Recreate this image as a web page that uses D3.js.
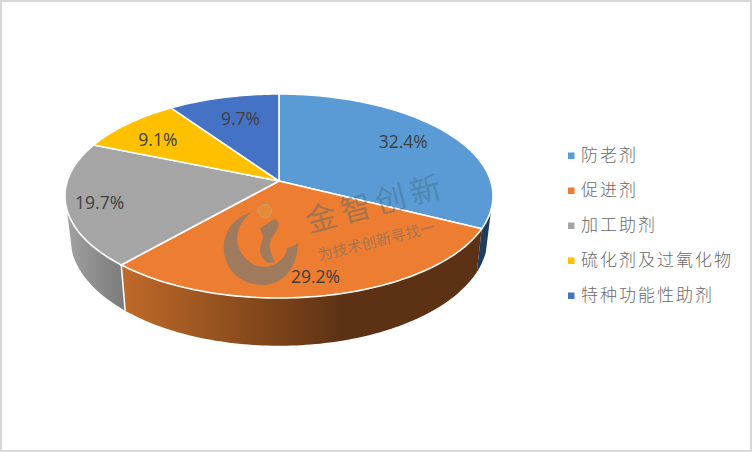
<!DOCTYPE html>
<html><head><meta charset="utf-8">
<script src="https://cdn.jsdelivr.net/npm/d3@7/dist/d3.min.js"></script>
<style>html,body{margin:0;padding:0;background:#fff}svg{display:block}</style></head>
<body><svg id="c" width="752" height="452"></svg>
<script>
const categories=["防老剂","促进剂","加工助剂","硫化剂及过氧化物","特种功能性助剂"];
const values=[32.4,29.2,19.7,9.1,9.7];
const colors=["#5b9bd5","#ed7d31","#a5a5a5","#ffc000","#4472c4"];

// tilted-disc projection fitted to the picture
const topFace={cx:279,cy:181,a:211.7,b:99.8,p:0.147};
const baseFace={cx:279,cy:221.5,a:206.5,b:106,p:0.147};
const labelRadius=[0.72,0.86,0.85,0.78,0.72];
const labelNudge=[[1.5,-4],[-3,-1],[1,1],[-1,3],[3,-1]];
const rimFrom=106*Math.PI/180, rimTo=254*Math.PI/180;

function proj(f,t,r=1){const u=Math.sin(t)*r,v=-Math.cos(t)*r,s=1/(1-f.p*v);return [f.cx+f.a*u*s,f.cy+f.b*v*s];}
function samples(t0,t1){const n=Math.max(2,Math.ceil(Math.abs(t1-t0)/0.02));return d3.range(n+1).map(i=>t0+(t1-t0)*i/n);}
const svg=d3.select("#c");
const line=d3.line();
const color=d3.scaleOrdinal(categories,colors);
const arcs=d3.pie().sort(null).startAngle(0).endAngle(2*Math.PI)(values).map((d,i)=>({...d,name:categories[i]}));

svg.append("rect").attr("x",1).attr("y",1).attr("width",750).attr("height",450).attr("fill","#fff").attr("stroke","#d9d9d9").attr("stroke-width",2);

const defs=svg.append("defs");
function grad(id,x1,x2,stops){const g=defs.append("linearGradient").attr("id",id).attr("gradientUnits","userSpaceOnUse").attr("x1",x1).attr("x2",x2).attr("y1",0).attr("y2",0);
 stops.forEach(s=>g.append("stop").attr("offset",s[0]).attr("stop-color",s[1]));}
grad("sideBlue",470,495,[[0,"#1f3d5c"],[1,"#1f3d5c"]]);
grad("sideOrange",122,345,[[0,"#c06a2a"],[0.5,"#8f4e1e"],[1,"#5c3114"]]);
grad("sideGray",68,122,[[0,"#a0a0a0"],[1,"#7c7c7c"]]);
const sideFill=["url(#sideBlue)","url(#sideOrange)","url(#sideGray)"];

// rim
arcs.forEach((d,i)=>{
  const t0=Math.max(d.startAngle,rimFrom),t1=Math.min(d.endAngle,rimTo);
  if(t1<=t0) return;
  const ts=samples(t0,t1);
  const pts=ts.map(t=>proj(topFace,t)).concat(ts.slice().reverse().map(t=>proj(baseFace,t)));
  svg.append("path").attr("d",line(pts)+"Z").attr("fill",sideFill[i]).attr("stroke","none");
});
// rim separator
const sep=arcs[1].endAngle;
svg.append("path").attr("d",line([proj(topFace,sep),proj(baseFace,sep)])).attr("stroke","#fff").attr("stroke-width",1.5).attr("fill","none");
// top face
arcs.forEach(d=>{
  const pts=[[topFace.cx,topFace.cy]].concat(samples(d.startAngle,d.endAngle).map(t=>proj(topFace,t)));
  svg.append("path").attr("d",line(pts)+"Z").attr("fill",color(d.name)).attr("stroke","#fff").attr("stroke-width",1.6).attr("stroke-linejoin","round");
});

// watermark
const wmFill="rgba(60,105,125,0.42)";
const logo=svg.append("g");
logo.append("path").attr("fill","#a07a5c").attr("d","M252,212 C232,218 222,234 224,252 C226,272 244,286 264,285 C284,284 297,268 298,243 C294,246 291,247 287,248 C287,254 283,259 277,263 C268,268 258,268 250,262 C240,255 235,243 238,232 C240,224 245,217 252,212Z");
logo.append("path").attr("fill","#a07a5c").attr("d","M260,228 C265,226 270,221 275,219 C278,220 279,224 278,227 C276,233 271,238 270,243 C269,249 271,254 275,262 L268,263 C263,260 260,255 260,250 C260,245 263,241 263,237 C263,234 261,232 260,228Z");
logo.append("circle").attr("cx",265).attr("cy",211).attr("r",6.5).attr("fill","#e58a35").attr("stroke","#c9a27a").attr("stroke-width",1);
svg.append("text").attr("transform","translate(375,201) rotate(-15)").attr("text-anchor","middle").attr("dominant-baseline","central")
  .attr("font-family","'Noto Sans CJK SC'").attr("font-size",31).attr("letter-spacing",5).attr("fill",wmFill).text("金智创新");
svg.append("text").attr("transform","translate(376,240) rotate(-14)").attr("text-anchor","middle").attr("dominant-baseline","central")
  .attr("font-family","'Noto Sans CJK SC'").attr("font-size",15).attr("fill",wmFill).text("为技术创新寻找一");

// labels
arcs.forEach((d,i)=>{
  const [x,y]=proj(topFace,(d.startAngle+d.endAngle)/2,labelRadius[i]);
  svg.append("text").attr("x",x+labelNudge[i][0]).attr("y",y+labelNudge[i][1]).attr("text-anchor","middle").attr("dominant-baseline","central")
    .attr("font-family","'Open Sans'").attr("font-size",17.5).attr("fill","#404040").text(d.value.toFixed(1)+"%");
});

// legend
const ly=d3.scalePoint().domain(categories).range([156,296]);
categories.forEach(c=>{
  svg.append("rect").attr("x",568).attr("y",ly(c)-3.5).attr("width",6.5).attr("height",6.5).attr("fill",color(c));
  svg.append("text").attr("x",581).attr("y",ly(c)-2.5).attr("dominant-baseline","central")
    .attr("font-family","'Noto Sans CJK SC'").attr("font-weight",300).attr("font-size",17).attr("letter-spacing",2).attr("fill","#6a6a6a").text(c);
});
</script></body></html>
